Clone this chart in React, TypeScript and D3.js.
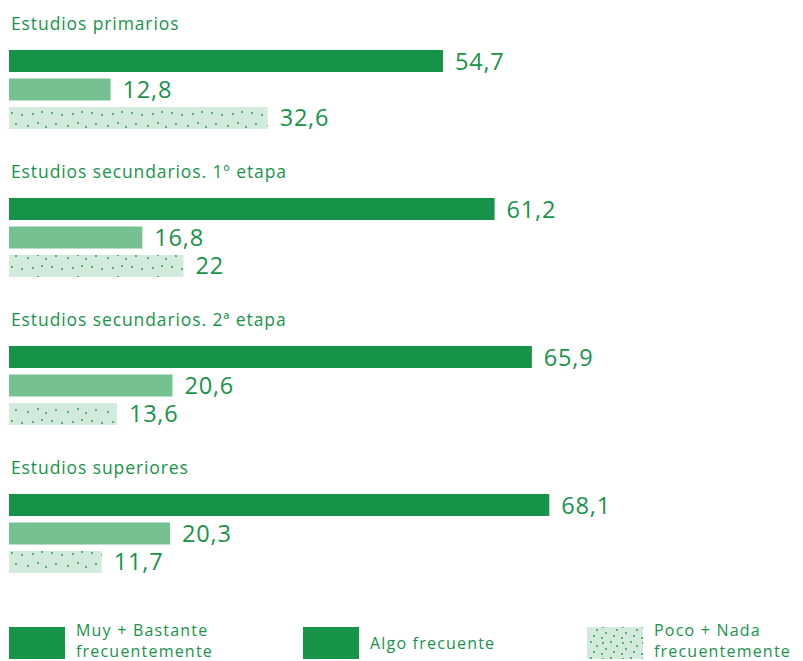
import React from 'react';
import * as d3 from 'd3';

const groups = [
  'Estudios primarios',
  'Estudios secundarios. 1º etapa',
  'Estudios secundarios. 2ª etapa',
  'Estudios superiores',
];
const series = ['Muy + Bastante frecuentemente', 'Algo frecuente', 'Poco + Nada frecuentemente'];
const muyBastante = [54.7, 61.2, 65.9, 68.1];
const algo = [12.8, 16.8, 20.6, 20.3];
const pocoNada = [32.6, 22, 13.6, 11.7];

const DARK = '#17944a';
const MID = '#76c192';
const LIGHT = '#d3ebdc';
const TEXT = '#17944a';
const FONT = '"Open Sans", Lato, sans-serif';

const fmt = (v: number) => String(v).replace('.', ',');

const App = () => {
  const width = 803;
  const height = 661;

  const x = d3.scaleLinear().domain([0, 54.7]).range([9, 443]);
  const gy = d3.scaleLinear().domain([0, 1]).range([50, 198]);
  const by = d3.scaleBand().domain(['0', '1', '2']).range([0, 79]).paddingInner(0.228).paddingOuter(0);

  const values = [muyBastante, algo, pocoNada];
  const fills = [DARK, MID, 'url(#dots)'];

  // dot positions inside the pattern tile
  const dots = [
    [3, 3], [13, 5], [24, 4], [33, 2], [7, 14], [19, 16], [29, 13], [37, 17],
  ];

  return (
    <svg width={width} height={height} style={{ position: 'absolute', left: 0, top: 0 }}>
      <defs>
        <pattern id="dots" patternUnits="userSpaceOnUse" width={40} height={22} x={9} y={0}>
          <rect width={40} height={22} fill={LIGHT} />
          {dots.map(([cx, cy], i) => (
            <circle key={i} cx={cx} cy={cy} r={0.9} fill={DARK} />
          ))}
        </pattern>
        <pattern id="dotsLeg" patternUnits="userSpaceOnUse" width={20} height={16} x={0} y={0}>
          <rect width={20} height={16} fill={LIGHT} />
          {[[3, 3], [11, 2], [17, 6], [6, 9], [14, 12], [2, 14]].map(([cx, cy], i) => (
            <circle key={i} cx={cx} cy={cy} r={0.9} fill={DARK} />
          ))}
        </pattern>
      </defs>
      {groups.map((g, gi) => {
        const top = gy(gi);
        return (
          <g key={g}>
            <text x={11} y={top - 20.5} fontFamily={FONT} fontSize={17.5} letterSpacing={0.9} fill={TEXT}>
              {g}
            </text>
            {values.map((vals, si) => {
              const y0 = top + (by(String(si)) ?? 0);
              const h = by.bandwidth();
              const v = vals[gi];
              return (
                <g key={si}>
                  <rect x={x(0)} y={y0} width={x(v) - x(0)} height={h} fill={fills[si]} />
                  <text
                    x={x(v) + 12}
                    y={y0 + h / 2 + 8.5}
                    fontFamily={FONT}
                    fontSize={23.5}
                    letterSpacing={0.8}
                    fill={TEXT}
                  >
                    {fmt(v)}
                  </text>
                </g>
              );
            })}
          </g>
        );
      })}
      {series.map((s, i) => {
        const lx = [9, 303, 587][i];
        const lines = i === 0 ? ['Muy + Bastante', 'frecuentemente'] : i === 2 ? ['Poco + Nada', 'frecuentemente'] : ['Algo frecuente'];
        const fill = i === 2 ? 'url(#dotsLeg)' : DARK;
        return (
          <g key={s}>
            <rect x={lx} y={627} width={56} height={32} fill={fill} />
            {lines.map((l, li) => (
              <text
                key={li}
                x={lx + 67}
                y={lines.length === 1 ? 649 : 636 + li * 20.5}
                fontFamily={FONT}
                fontSize={16}
                letterSpacing={1.2}
                fill={TEXT}
              >
                {l}
              </text>
            ))}
          </g>
        );
      })}
    </svg>
  );
};

export default App;
